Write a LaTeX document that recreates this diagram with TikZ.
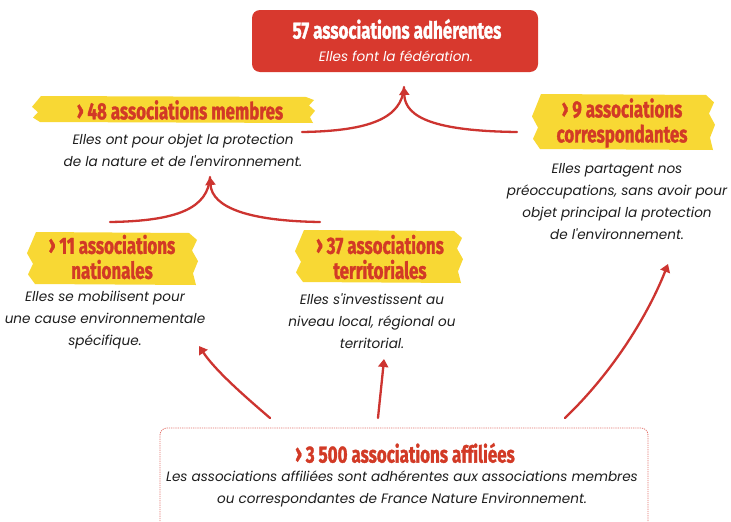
\documentclass[tikz,border=0pt]{standalone}
\usepackage{fontspec}
\usetikzlibrary{arrows.meta}
\setmainfont{Lato}
\newfontfamily\headfont[FakeStretch=0.72,FakeBold=1.3,Ligatures=NoCommon]{Fira Sans}
\newfontfamily\descfont{Poppins}
\definecolor{fneRed}{HTML}{D8392E}
\definecolor{fneText}{HTML}{D23A26}
\definecolor{fneYellow}{HTML}{F8D834}
\definecolor{fneArrow}{HTML}{CD3430}
\definecolor{fneDesc}{HTML}{1E1E1E}
\newcommand\chev{\raisebox{0.5pt}{\scalebox{1.1}{›}}\,}
\newcommand\brush[4]{%
  \fill[ybrush] ({#1+6},#2) -- ({#3-6},{#2+1}) -- ({#3+2},{#2+0.15*(#4-#2)}) -- ({#3-3},{#2+0.35*(#4-#2)})
   -- ({#3+3},{#2+0.55*(#4-#2)}) -- ({#3-2},{#2+0.78*(#4-#2)}) -- ({#3+1},#4) -- ({#1+5},{#4-1})
   -- ({#1-2},{#2+0.8*(#4-#2)}) -- ({#1+3},{#2+0.6*(#4-#2)}) -- ({#1-3},{#2+0.4*(#4-#2)}) -- ({#1+2},{#2+0.18*(#4-#2)}) -- cycle;}
\tikzset{
  headtxt/.style={font=\headfont\bfseries\fontsize{23.5}{25}\selectfont, text=fneText, align=center, inner sep=0},
  desctxt/.style={font=\descfont\itshape\fontsize{13.6}{22}\selectfont, text=fneDesc, align=center, inner sep=0},
  ybrush/.style={fill=fneYellow},
  flow/.style={draw=fneArrow, line width=2.3pt, line cap=round},
  tipped/.style={-{Triangle[length=8pt,width=10pt]}},
}
\begin{document}
\begin{tikzpicture}[x=1pt,y=-1pt]
\useasboundingbox[fill=white] (0,0) rectangle (731,522);

% top box
\node[fill=fneRed, rounded corners=8pt, minimum width=286pt, minimum height=62pt, inner sep=0] (top) at (395,41) {};
\node[headtxt, text=white] (topT) at (397,29) {57 associations adhérentes};
\node[desctxt, text=white] (topD) at (396,56) {Elles font la fédération.};

% brushes
\brush{35}{96}{312}{123}
\brush{535}{94}{712}{150}
\brush{30}{232}{195}{285}
\brush{298}{230}{460}{283}

% headings
\node[headtxt] (memT) at (180,110) {\chev 48 associations membres};
\node[headtxt] (corT) at (622,123) {\chev 9 associations\\correspondantes};
\node[headtxt] (natT) at (112,257) {\chev 11 associations\\nationales};
\node[headtxt] (terT) at (380,257) {\chev 37 associations\\territoriales};
\node[headtxt] (affT) at (405,453) {\chev 3 500 associations affiliées};

% descriptions
\node[desctxt] (memD) at (183,150) {Elles ont pour objet la protection\\de la nature et de l'environnement.};
\node[desctxt] (corD) at (617,201.5) {Elles partagent nos\\préoccupations, sans avoir pour\\objet principal la protection\\de l'environnement.};
\node[desctxt] (natD) at (105,320) {Elles se mobilisent pour\\une cause environnementale\\spécifique.};
\node[desctxt] (terD) at (372,321) {Elles s'investissent au\\niveau local, régional ou\\territorial.};
\node[desctxt] (affD) at (402,489) {Les associations affiliées sont adhérentes aux associations membres\\ou correspondantes de France Nature Environnement.};

% bottom dashed box
\draw[fneRed!70, line width=0.8pt, dash pattern=on 1.2pt off 1pt, rounded corners=7pt] (160,530) -- (160,428) -- (648,428) -- (648,530);

% coordinates
\coordinate (a1L) at (302,132);
\coordinate (a1R) at (517,132);
\coordinate (a1T) at (404,87);
\coordinate (a2L) at (110,222);
\coordinate (a2R) at (320,222);
\coordinate (a2T) at (210,177);
\coordinate (b1S) at (270,418);
\coordinate (b1E) at (199,346);
\coordinate (b2S) at (378,418);
\coordinate (b2E) at (384,359);
\coordinate (b3S) at (565,418);
\coordinate (b3E) at (668,264);

% merging arrows
\draw[flow] (a1L) .. controls (370,131) and (402,118) .. (a1T);
\draw[flow, tipped] (a1R) .. controls (436,131) and (405,118) .. (a1T);
\draw[flow] (a2L) .. controls (178,221) and (208,208) .. (a2T);
\draw[flow, tipped] (a2R) .. controls (250,221) and (212,208) .. (a2T);

% bottom arrows
\draw[flow, tipped] (b1S) .. controls (242,394) and (215,370) .. (b1E);
\draw[flow, tipped] (b2S) .. controls (380,398) and (382,380) .. (b2E);
\draw[flow, tipped] (b3S) .. controls (620,365) and (652,305) .. (b3E);
\end{tikzpicture}
\end{document}
